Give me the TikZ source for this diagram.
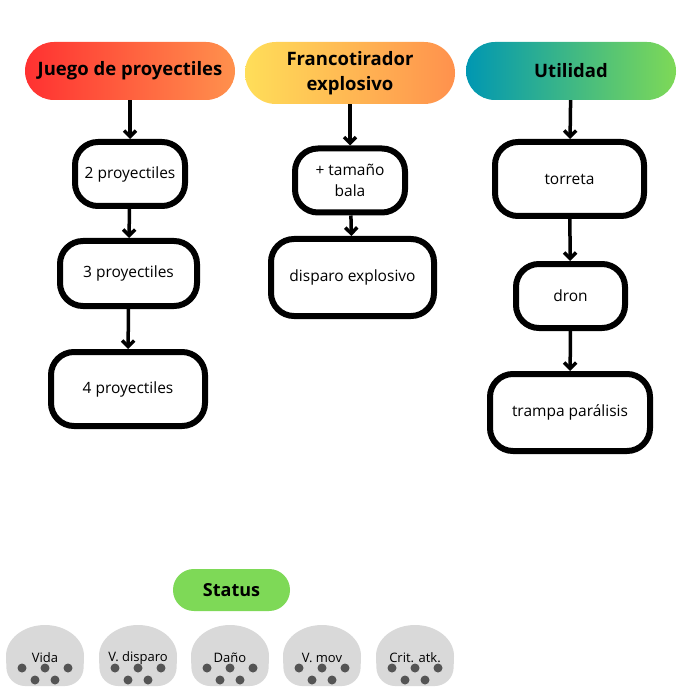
\documentclass[tikz,border=0pt]{standalone}
\usepackage{fontspec}
\setmainfont{Open Sans}
\usetikzlibrary{arrows.meta}

\definecolor{rojo}{HTML}{FF3131}
\definecolor{naranja}{HTML}{FF914D}
\definecolor{amarillo}{HTML}{FFDE59}
\definecolor{turquesa}{HTML}{0097B2}
\definecolor{verde}{HTML}{7ED957}
\definecolor{gris}{HTML}{D9D9D9}
\definecolor{grisosc}{HTML}{545454}

\tikzset{
  cabecera/.style={rounded corners=28.9pt, minimum width=210pt, minimum height=58pt,
    inner sep=0pt, align=center, font=\fontsize{18.5}{25}\selectfont\bfseries},
  stepbox/.style={draw, line width=6pt, rounded corners=23pt, inner sep=0pt,
    fill=white, align=center, font=\fontsize{15.5}{21}\selectfont},
  flecha/.style={line width=3.5pt, -{Straight Barb[length=6pt,width=12pt]}},
  etiqueta/.style={inner sep=0pt, font=\fontsize{13}{15}\selectfont},
  punto/.style={fill=grisosc}
}

\begin{document}
\begin{tikzpicture}[x=1pt, y=-1pt]
  \useasboundingbox (0,0) rectangle (700,700);

  % cabeceras
  \node[cabecera, left color=rojo, right color=naranja] (juego) at (130,71) {Juego de proyectiles};
  \node[cabecera, left color=amarillo, right color=naranja, minimum height=62pt, rounded corners=30.9pt]
    (franco) at (350,73) {Francotirador\\explosivo};
  \node[cabecera, left color=turquesa, right color=verde] (util) at (571,71) {Utilidad};

  % juego de proyectiles
  \node[stepbox, minimum width=110pt, minimum height=64pt] (p2) at (130,174) {2 proyectiles};
  \node[stepbox, minimum width=137pt, minimum height=65pt] (p3) at (128.5,273.5) {3 proyectiles};
  \node[stepbox, minimum width=154pt, minimum height=74pt] (p4) at (128,389) {4 proyectiles};

  % francotirador
  \node[stepbox, minimum width=110pt, minimum height=64pt] (bala) at (350,180.5) {+ tamaño\\bala};
  \node[stepbox, minimum width=163pt, minimum height=77pt] (disparo) at (352.5,277.5) {disparo explosivo};

  % utilidad
  \node[stepbox, minimum width=149pt, minimum height=74pt] (torreta) at (569.5,179) {torreta};
  \node[stepbox, minimum width=109pt, minimum height=64pt] (dron) at (570.5,296) {dron};
  \node[stepbox, minimum width=160pt, minimum height=77pt] (trampa) at (570,412.5) {trampa parálisis};

  \draw[flecha] (juego) -- (p2);
  \draw[flecha] (p2) -- (p3);
  \draw[flecha] (p3) -- (p4);
  \draw[flecha] (franco) -- (bala);
  \draw[flecha] (bala) -- (disparo);
  \draw[flecha] (util) -- (torreta);
  \draw[flecha] (torreta) -- (dron);
  \draw[flecha] (dron) -- (trampa);

  % status
  \node[cabecera, fill=verde, minimum width=117pt, minimum height=42pt, rounded corners=20.9pt,
    font=\fontsize{18}{22}\selectfont\bfseries] (status) at (231.5,590) {Status};

  \foreach \cx/\txt/\nm in {45/Vida/vida, 138/V. disparo/vdisp, 230/Daño/dano, 322/V. mov/vmov, 415/Crit. atk./crit}{
    \fill[gris] (\cx-39,656) arc[start angle=180, end angle=360, x radius=39, y radius=31]
      {[rounded corners=18pt] -- (\cx+38,686) -- (\cx-38,686)} -- cycle;
    \node[etiqueta] (\nm) at (\cx,658) {\txt};
    \foreach \dx in {-23,0,23} \fill[punto] (\cx+\dx,668) circle (4.5pt);
    \foreach \dx in {-10,10} \fill[punto] (\cx+\dx,680) circle (4.5pt);
  }
\end{tikzpicture}
\end{document}
